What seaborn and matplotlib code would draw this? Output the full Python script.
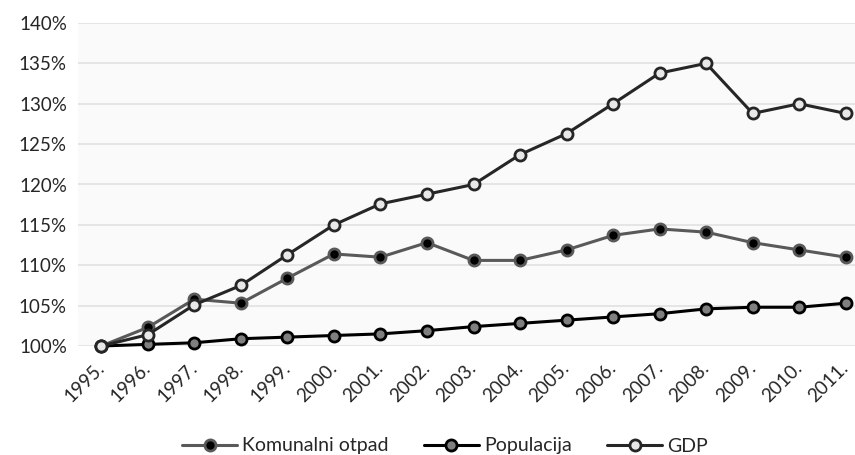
import matplotlib
matplotlib.use("Agg")
import matplotlib.pyplot as plt
import pandas as pd
import seaborn as sns

years = ["1995.", "1996.", "1997.", "1998.", "1999.", "2000.", "2001.", "2002.", "2003.",
         "2004.", "2005.", "2006.", "2007.", "2008.", "2009.", "2010.", "2011."]
komunalni = [100.0, 102.3, 105.8, 105.3, 108.4, 111.4, 111.0, 112.8, 110.6,
             110.6, 111.9, 113.7, 114.5, 114.1, 112.8, 111.9, 111.0]
populacija = [100.0, 100.2, 100.4, 100.9, 101.1, 101.3, 101.5, 101.9, 102.4,
              102.8, 103.2, 103.6, 104.0, 104.6, 104.8, 104.8, 105.3]
gdp = [100.0, 101.4, 105.1, 107.5, 111.3, 115.0, 117.6, 118.8, 120.0,
       123.7, 126.3, 130.0, 133.8, 135.0, 128.8, 130.0, 128.8]
yticks = [100, 105, 110, 115, 120, 125, 130, 135, 140]


def main():
	sns.set_style("white")
	plt.rcParams['font.family'] = ['Lato', 'DejaVu Sans']

	pos = list(range(len(years)))
	df = pd.DataFrame({"pos": pos, "Komunalni otpad": komunalni,
	                   "Populacija": populacija, "GDP": gdp})

	fig = plt.figure(figsize=(8.55, 4.55), dpi=100)
	ax = fig.add_axes([78 / 855, 1 - 346 / 455, (869 - 78) / 855, (346 - 23) / 455])
	ax.set_facecolor("#fafafa")

	styles = {
		"Komunalni otpad": dict(color="#595959", mfc="#000000", mec="#595959"),
		"Populacija": dict(color="#000000", mfc="#7f7f7f", mec="#000000"),
		"GDP": dict(color="#262626", mfc="#e8e8e8", mec="#262626"),
	}
	for name, st in styles.items():
		sns.lineplot(data=df, x="pos", y=name, ax=ax, label=name, color=st["color"],
		             linewidth=2.2, marker="o", markersize=8, markerfacecolor=st["mfc"],
		             markeredgecolor=st["mec"], markeredgewidth=2.0, clip_on=False, legend=False)

	ax.set_xlim(-0.5, len(years) - 0.5)
	ax.set_ylim(100, 140)
	ax.set_yticks(yticks)
	ax.set_yticklabels([f"{v}%" for v in yticks], fontsize=13.5)
	ax.set_xticks(pos)
	ax.set_xticklabels(years, rotation=45, ha="right", va="center",
	                   rotation_mode="anchor", fontsize=13.5)
	ax.tick_params(axis="y", length=0, pad=8)
	ax.tick_params(axis="x", length=0, pad=14)
	ax.grid(axis="y", color="#e3e3e3", linewidth=1.3)
	ax.set_axisbelow(True)
	for s in ax.spines.values():
		s.set_visible(False)
	ax.set_xlabel("")
	ax.set_ylabel("")

	handles, labels = ax.get_legend_handles_labels()
	fig.legend(handles, labels, loc="center", bbox_to_anchor=(445 / 855, 1 - 446 / 455),
	           ncol=3, frameon=False, fontsize=14, handlelength=2.8, columnspacing=1.85,
	           handletextpad=0.26, borderpad=0, borderaxespad=0)

	fig.savefig("out.png", dpi=100)


if __name__ == "__main__":
	main()
